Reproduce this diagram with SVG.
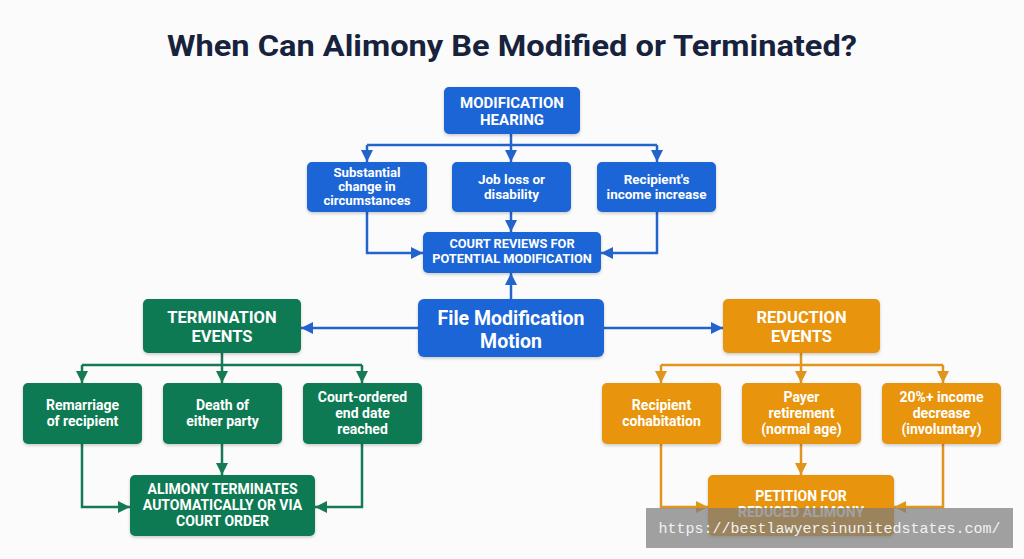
<svg xmlns="http://www.w3.org/2000/svg" width="1024" height="559" viewBox="0 0 1024 559">
<defs>
<style>
.t{font-family:Roboto,"Liberation Sans",Arial,sans-serif;font-weight:700;fill:#fff;text-anchor:middle}
.blue{fill:#1f65d6}
.green{fill:#117a53}
.orange{fill:#e8940f}
.cb{stroke:#2364cc;stroke-width:2.5;fill:none}
.cg{stroke:#167a55;stroke-width:2.5;fill:none}
.co{stroke:#e0951c;stroke-width:2.5;fill:none}
</style>
<marker id="ab" viewBox="0 0 10 10" refX="10" refY="5" markerWidth="12" markerHeight="12" markerUnits="userSpaceOnUse" orient="auto"><path d="M0,0 L10,5 L0,10 z" fill="#2364cc"/></marker>
<marker id="ag" viewBox="0 0 10 10" refX="10" refY="5" markerWidth="12" markerHeight="12" markerUnits="userSpaceOnUse" orient="auto"><path d="M0,0 L10,5 L0,10 z" fill="#167a55"/></marker>
<marker id="ao" viewBox="0 0 10 10" refX="10" refY="5" markerWidth="12" markerHeight="12" markerUnits="userSpaceOnUse" orient="auto"><path d="M0,0 L10,5 L0,10 z" fill="#e0951c"/></marker>
<filter id="sh" x="-10%" y="-10%" width="120%" height="130%"><feDropShadow dx="0" dy="1.5" stdDeviation="1.5" flood-color="#000" flood-opacity="0.2"/></filter>
</defs>
<rect width="1024" height="559" fill="#fbfbfb"/>
<text x="512" y="56" font-family="Roboto,'Liberation Sans',Arial,sans-serif" font-weight="700" font-size="29" fill="#17223d" text-anchor="middle" textLength="690" lengthAdjust="spacingAndGlyphs">When Can Alimony Be Modified or Terminated?</text>

<g id="connectors">
<path class="cb" d="M511,134 V145 M367,145 H657"/>
<path class="cb" d="M367,145 V162" marker-end="url(#ab)"/>
<path class="cb" d="M511,145 V162" marker-end="url(#ab)"/>
<path class="cb" d="M657,145 V162" marker-end="url(#ab)"/>
<path class="cb" d="M367,212 V253 H423" marker-end="url(#ab)"/>
<path class="cb" d="M511,212 V232" marker-end="url(#ab)"/>
<path class="cb" d="M657,212 V253 H601" marker-end="url(#ab)"/>
<path class="cb" d="M511,299 V273" marker-end="url(#ab)"/>
<path class="cb" d="M418,328 H301" marker-end="url(#ab)"/>
<path class="cb" d="M604,328 H723" marker-end="url(#ab)"/>
<path class="cg" d="M222,353 V365 M82,365 H362"/>
<path class="cg" d="M82,365 V383" marker-end="url(#ag)"/>
<path class="cg" d="M222,365 V383" marker-end="url(#ag)"/>
<path class="cg" d="M362,365 V383" marker-end="url(#ag)"/>
<path class="cg" d="M82,444 V507 H130" marker-end="url(#ag)"/>
<path class="cg" d="M222,444 V475" marker-end="url(#ag)"/>
<path class="cg" d="M362,444 V507 H315" marker-end="url(#ag)"/>
<path class="co" d="M801,353 V365 M661,365 H943"/>
<path class="co" d="M661,365 V383" marker-end="url(#ao)"/>
<path class="co" d="M801,365 V383" marker-end="url(#ao)"/>
<path class="co" d="M943,365 V383" marker-end="url(#ao)"/>
<path class="co" d="M661,444 V507 H708" marker-end="url(#ao)"/>
<path class="co" d="M801,444 V475" marker-end="url(#ao)"/>
<path class="co" d="M943,444 V507 H894" marker-end="url(#ao)"/>
</g>

<g id="mod-hearing"><rect class="blue" x="444" y="87" width="136" height="47" rx="5" filter="url(#sh)"/><text class="t" font-size="15"><tspan x="512" y="108">MODIFICATION</tspan><tspan x="512" y="125">HEARING</tspan></text></g>
<g id="substantial"><rect class="blue" x="307" y="162" width="120" height="50" rx="5" filter="url(#sh)"/><text class="t" font-size="13.2"><tspan x="367" y="177">Substantial</tspan><tspan x="367" y="191">change in</tspan><tspan x="367" y="205">circumstances</tspan></text></g>
<g id="job-loss"><rect class="blue" x="452" y="162" width="119" height="50" rx="5" filter="url(#sh)"/><text class="t" font-size="13.5"><tspan x="511.5" y="184">Job loss or</tspan><tspan x="511.5" y="199">disability</tspan></text></g>
<g id="recipient-income"><rect class="blue" x="597" y="162" width="119" height="50" rx="5" filter="url(#sh)"/><text class="t" font-size="13.5"><tspan x="656.5" y="184">Recipient's</tspan><tspan x="656.5" y="199">income increase</tspan></text></g>
<g id="court-reviews"><rect class="blue" x="423" y="232" width="178" height="41" rx="5" filter="url(#sh)"/><text class="t" font-size="12.8"><tspan x="512" y="248">COURT REVIEWS FOR</tspan><tspan x="512" y="263">POTENTIAL MODIFICATION</tspan></text></g>
<g id="file-motion"><rect class="blue" x="418" y="299" width="186" height="58" rx="6" filter="url(#sh)"/><text class="t" font-size="19.5"><tspan x="511" y="325">File Modification</tspan><tspan x="511" y="348">Motion</tspan></text></g>

<g id="termination"><rect class="green" x="143" y="299" width="158" height="54" rx="5" filter="url(#sh)"/><text class="t" font-size="16.5"><tspan x="222" y="323">TERMINATION</tspan><tspan x="222" y="342">EVENTS</tspan></text></g>
<g id="remarriage"><rect class="green" x="23" y="383" width="119" height="61" rx="5" filter="url(#sh)"/><text class="t" font-size="14"><tspan x="82.5" y="410">Remarriage</tspan><tspan x="82.5" y="426">of recipient</tspan></text></g>
<g id="death"><rect class="green" x="163" y="383" width="119" height="61" rx="5" filter="url(#sh)"/><text class="t" font-size="14"><tspan x="222.5" y="410">Death of</tspan><tspan x="222.5" y="426">either party</tspan></text></g>
<g id="end-date"><rect class="green" x="303" y="383" width="119" height="61" rx="5" filter="url(#sh)"/><text class="t" font-size="14"><tspan x="362.5" y="402">Court-ordered</tspan><tspan x="362.5" y="418">end date</tspan><tspan x="362.5" y="434">reached</tspan></text></g>
<g id="alimony-terminates"><rect class="green" x="130" y="475" width="185" height="61" rx="5" filter="url(#sh)"/><text class="t" font-size="14"><tspan x="222.5" y="494">ALIMONY TERMINATES</tspan><tspan x="222.5" y="510">AUTOMATICALLY OR VIA</tspan><tspan x="222.5" y="526">COURT ORDER</tspan></text></g>

<g id="reduction"><rect class="orange" x="723" y="299" width="157" height="54" rx="5" filter="url(#sh)"/><text class="t" font-size="16.5"><tspan x="801.5" y="323">REDUCTION</tspan><tspan x="801.5" y="342">EVENTS</tspan></text></g>
<g id="cohabitation"><rect class="orange" x="602" y="383" width="119" height="61" rx="5" filter="url(#sh)"/><text class="t" font-size="14"><tspan x="661.5" y="410">Recipient</tspan><tspan x="661.5" y="426">cohabitation</tspan></text></g>
<g id="retirement"><rect class="orange" x="742" y="383" width="119" height="61" rx="5" filter="url(#sh)"/><text class="t" font-size="14"><tspan x="801.5" y="402">Payer</tspan><tspan x="801.5" y="418">retirement</tspan><tspan x="801.5" y="434">(normal age)</tspan></text></g>
<g id="income-decrease"><rect class="orange" x="882" y="383" width="119" height="61" rx="5" filter="url(#sh)"/><text class="t" font-size="14"><tspan x="941.5" y="402">20%+ income</tspan><tspan x="941.5" y="418">decrease</tspan><tspan x="941.5" y="434">(involuntary)</tspan></text></g>
<g id="petition"><rect class="orange" x="708" y="475" width="186" height="61" rx="5" filter="url(#sh)"/><text class="t" font-size="14"><tspan x="801" y="501">PETITION FOR</tspan><tspan x="801" y="517">REDUCED ALIMONY</tspan></text></g>

<g id="watermark"><rect x="646" y="508" width="367" height="40" fill="#7d7d7d" opacity="0.72"/><text x="829.5" y="533" font-family="'Liberation Mono','DejaVu Sans Mono',monospace" font-size="15" fill="#f2f2f2" text-anchor="middle">https://bestlawyersinunitedstates.com/</text></g>
</svg>
